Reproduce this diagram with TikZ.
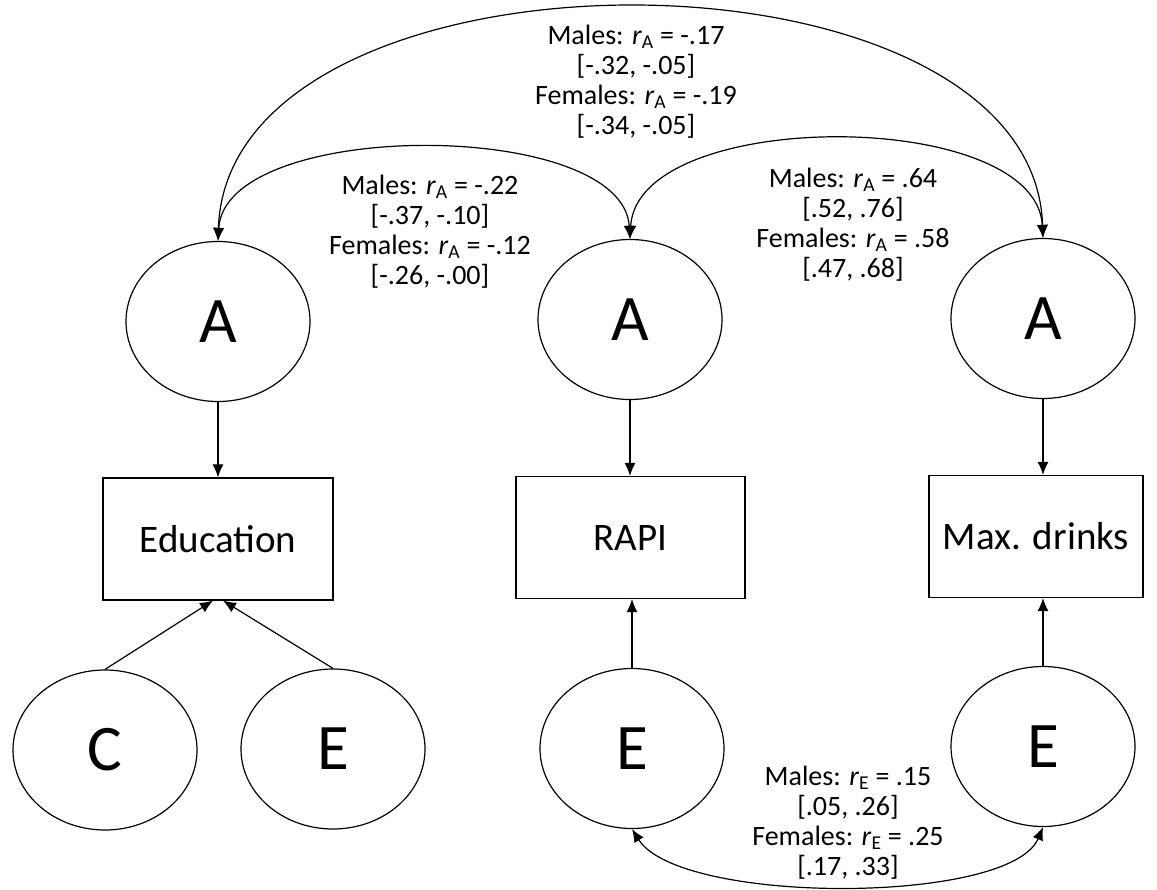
\documentclass[tikz,border=0pt]{standalone}
\usepackage{fontspec}
\setmainfont{Carlito}
\usetikzlibrary{arrows.meta,shapes.geometric}
\begin{document}
\begin{tikzpicture}[x=1pt,y=-1pt,
  lat/.style={draw, ellipse, minimum width=184pt, minimum height=160pt, inner sep=0pt, font=\fontsize{65}{65}\selectfont, line width=1.2pt},
  obs/.style={draw, rectangle, minimum height=122pt, inner sep=0pt, font=\fontsize{39}{40}\selectfont, line width=1.2pt},
  lbl/.style={align=center, font=\fontsize{28}{30}\selectfont, inner sep=0pt},
  arr/.style={-{Latex[length=13pt,width=11pt]}, line width=1.2pt},
  darr/.style={{Latex[length=13pt,width=11pt]}-{Latex[length=13pt,width=11pt]}, line width=1.2pt}
]
\useasboundingbox (0,0) rectangle (1157,890);
\fill[white] (0,0) rectangle (1157,890);
\newcommand{\rA}{\textit{r}\textsubscript{A}}
\newcommand{\rE}{\textit{r}\textsubscript{E}}

% latent variables
\node[lat] (A1) at (218,321.5) {A};
\node[lat] (A2) at (630,319.5) {A};
\node[lat] (A3) at (1043,318.5) {A};
\node[lat] (C1) at (105,750) {C};
\node[lat] (E1) at (333,749) {E};
\node[lat] (E2) at (632,748.5) {E};
\node[lat] (E3) at (1043,746.5) {E};

% observed
\node[obs, minimum width=230pt] (edu) at (218,539) {Education};
\node[obs, minimum width=229pt] (rapi) at (630.5,537.5) {RAPI};
\node[obs, minimum width=214pt] (max) at (1036,536.5) {Max. drinks};

% paths
\draw[arr] (A1.south) -- (A1.south |- edu.north);
\draw[arr] (A2.south) -- (A2.south |- rapi.north);
\draw[arr] (A3.south) -- (A3.south |- max.north);
\draw[arr] (C1.north) -- ([xshift=-5pt]edu.south);
\draw[arr] (E1.north) -- ([xshift=5pt]edu.south);
\draw[arr] (E2.north) -- (E2.north |- rapi.south);
\draw[arr] (E3.north) -- (E3.north |- max.south);

% correlations
\draw[darr] (A1.north) .. controls (228,-69) and (1033,-69) .. (A3.north);
\draw[darr] (A1.north) .. controls (225,118) and (623,118) .. (A2.north);
\draw[darr] (A2.north) .. controls (637,107) and (1036,107) .. (A3.north);
\draw[darr] (E2.south) .. controls (680,905) and (1010,905) .. (E3.south);

% labels
\node[lbl] (l1) at (636,82) {Males: \rA{} = -.17\\{}[-.32, -.05]\\Females: \rA{} = -.19\\{}[-.34, -.05]};
\node[lbl] (l2) at (430,232) {Males: \rA{} = -.22\\{}[-.37, -.10]\\Females: \rA{} = -.12\\{}[-.26, -.00]};
\node[lbl] (l3) at (853,225) {Males: \rA{} = .64\\{}[.52, .76]\\Females: \rA{} = .58\\{}[.47, .68]};
\node[lbl] (l4) at (848,823) {Males: \rE{} = .15\\{}[.05, .26]\\Females: \rE{} = .25\\{}[.17, .33]};
\end{tikzpicture}
\end{document}
